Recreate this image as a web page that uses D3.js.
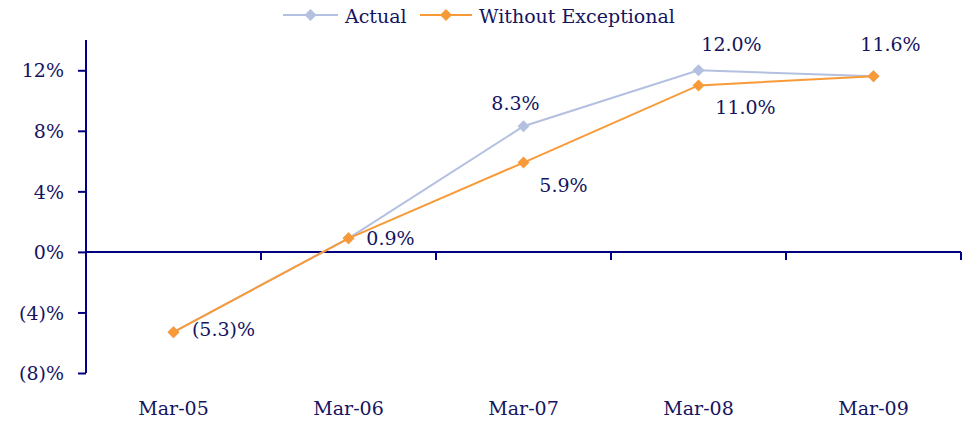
<!DOCTYPE html>
<html>
<head>
<meta charset="utf-8">
<script src="https://cdn.jsdelivr.net/npm/d3@7"></script>
<style>
  body { margin: 0; background: #fff; }
</style>
</head>
<body>
<svg id="chart" width="965" height="421"></svg>
<script>
// data
var categories = ["Mar-05", "Mar-06", "Mar-07", "Mar-08", "Mar-09"]
var actual = [-5.3, 0.9, 8.3, 12.0, 11.6]
var withoutExc = [-5.3, 0.9, 5.9, 11.0, 11.6]
var yTicks = [-8, -4, 0, 4, 8, 12]
var seriesNames = ["Actual", "Without Exceptional"]

// which series carries each label (0 actual, 1 without) and where it sits
var labelPlace = [
  { s: 1, i: 0, dx: 50, dy: 4 },
  { s: 1, i: 1, dx: 42, dy: 7 },
  { s: 0, i: 2, dx: -8, dy: -16 },
  { s: 1, i: 2, dx: 40, dy: 29 },
  { s: 0, i: 3, dx: 33, dy: -19 },
  { s: 1, i: 3, dx: 47, dy: 29 },
  { s: 1, i: 4, dx: 17, dy: -25 }
]

var colors = ["#b4c0e0", "#f99a38"]
var axisColor = "#000080"
var textColor = "#14145f"
var serif = "'DejaVu Serif', serif"

var svg = d3.select("#chart")
var margin = { left: 86, top: 40 }

var g = svg.append("g").attr("transform", "translate(" + margin.left + "," + margin.top + ")")

var x = d3.scaleBand().domain(categories).range([0, 875])
var y = d3.scaleLinear().domain([-8, 14]).range([333, 0])

function fmt(v) {
  var s = Math.abs(v).toFixed(1)
  return v < 0 ? "(" + s + ")%" : s + "%"
}
function fmtTick(v) {
  return v < 0 ? "(" + Math.abs(v) + ")%" : v + "%"
}
function styleText(sel) {
  sel.attr("font-family", serif).style("font-family", serif)
    .style("font-size", "19px").attr("fill", textColor)
}

// y axis
var yAxis = g.append("g")
  .call(d3.axisLeft(y).tickValues(yTicks).tickSize(8).tickPadding(14).tickFormat(fmtTick))
yAxis.attr("font-family", serif)
yAxis.select(".domain").attr("stroke", axisColor).attr("stroke-width", 2)
  .attr("d", "M0," + y(-8) + "V0")
yAxis.selectAll(".tick line").attr("stroke", axisColor).attr("stroke-width", 2)
yAxis.selectAll(".tick text").call(styleText).attr("dy", "0.35em")

// zero line with boundary ticks
var zero = g.append("g").attr("transform", "translate(0," + y(0) + ")")
zero.append("line").attr("x1", 0).attr("x2", x.range()[1]).attr("stroke", axisColor).attr("stroke-width", 2)
var bounds = categories.map(function (c) { return x(c) }).concat([x.range()[1]])
zero.selectAll(".bt").data(bounds).enter().append("line")
  .attr("x1", d => d).attr("x2", d => d).attr("y1", 0).attr("y2", 8)
  .attr("stroke", axisColor).attr("stroke-width", 2)

// category labels at the bottom
g.selectAll(".cat").data(categories).enter().append("text")
  .attr("x", d => x(d) + x.bandwidth() / 2)
  .attr("y", 375)
  .attr("text-anchor", "middle")
  .call(styleText)
  .text(d => d)

// lines and markers
var series = [actual, withoutExc]
var line = d3.line()
  .x((d, i) => x(categories[i]) + x.bandwidth() / 2)
  .y(d => y(d))
var diamond = d3.symbol().type(d3.symbolSquare).size(72)

series.forEach(function (vals, s) {
  g.append("path").datum(vals)
    .attr("d", line)
    .attr("fill", "none")
    .attr("stroke", colors[s])
    .attr("stroke-width", 2)
  g.selectAll(".m" + s).data(vals).enter().append("path")
    .attr("d", diamond)
    .attr("transform", (d, i) => "translate(" + (x(categories[i]) + x.bandwidth() / 2) + "," + y(d) + ") rotate(45)")
    .attr("fill", colors[s])
})

// data labels
g.selectAll(".lbl").data(labelPlace).enter().append("text")
  .attr("x", d => x(categories[d.i]) + x.bandwidth() / 2 + d.dx)
  .attr("y", d => y(series[d.s][d.i]) + d.dy)
  .attr("text-anchor", "middle")
  .call(styleText)
  .text(d => fmt(series[d.s][d.i]))

// legend
var legendX = [283, 420]
var legendW = [55, 52]
var leg = svg.append("g")
seriesNames.forEach(function (name, s) {
  var lx = legendX[s]
  leg.append("line").attr("x1", lx).attr("x2", lx + legendW[s]).attr("y1", 15).attr("y2", 15)
    .attr("stroke", colors[s]).attr("stroke-width", 2)
  leg.append("path").attr("d", diamond)
    .attr("transform", "translate(" + (lx + legendW[s] / 2) + ",15) rotate(45)")
    .attr("fill", colors[s])
  leg.append("text").attr("x", lx + legendW[s] + 7).attr("y", 23)
    .call(styleText).text(name)
})
</script>
</body>
</html>
